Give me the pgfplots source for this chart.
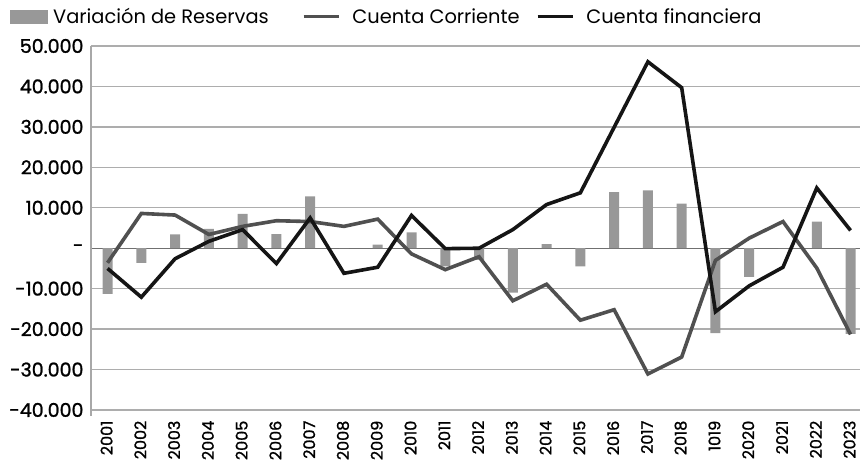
\documentclass[border=0pt]{standalone}
\usepackage{fontspec}
\setmainfont{Poppins}
\newfontfamily\tickfont{Poppins}[FakeBold=1.2]
\usepackage{pgfplots}
\usepackage{pgfplotstable}
\pgfplotsset{compat=1.18}
\definecolor{barg}{HTML}{989898}
\definecolor{ccg}{HTML}{505050}
\definecolor{cfk}{HTML}{151515}
\definecolor{gridg}{HTML}{ADADAD}
\definecolor{zerog}{HTML}{707070}
\definecolor{axisg}{HTML}{A8A8A8}
\pgfplotstableread{
x res cc cf
0 -11300 -3600 -5000
1 -3600 8600 -12100
2 3400 8200 -2600
3 4800 3400 1700
4 8500 5400 4600
5 3500 6800 -3800
6 12800 6600 7500
7 0 5400 -6200
8 900 7200 -4700
9 3900 -1400 8100
10 -4500 -5300 -100
11 -2900 -2100 0
12 -11000 -13000 4600
13 1000 -8900 10800
14 -4500 -17800 13700
15 13900 -15200 29900
16 14300 -31100 46100
17 11000 -26900 39700
18 -21000 -3000 -15700
19 -7100 2500 -9300
20 0 6600 -4700
21 6600 -4900 14900
22 -21200 -21300 4400
}\data
\begin{document}
\begin{tikzpicture}
\begin{axis}[
  scale only axis, width=769pt, height=364pt,
  xmin=-0.49, xmax=22.28,
  ymin=-40000, ymax=50000,
  scaled y ticks=false,
  ytick={-40000,-30000,-20000,-10000,0,10000,20000,30000,40000,50000},
  yticklabels={-40.000,-30.000,-20.000,-10.000,-,10.000,20.000,30.000,40.000,50.000},
  xtick={0,...,22},
  xticklabels={2001,2002,2003,2004,2005,2006,2007,2008,2009,2010,2011,2012,2013,2014,2015,2016,2017,2018,1019,2020,2021,2022,2023},
  xticklabel style={rotate=90, anchor=east, inner sep=0.5pt, font=\tickfont\fontsize{16}{18}\selectfont, xshift=-10pt, yshift=1pt},
  yticklabel style={font=\tickfont\fontsize{19}{22}\selectfont, xshift=-4pt},
  major tick length=0pt,
  axis line style={draw=none},
  ymajorgrids, grid style={gridg, line width=1.3pt},
  clip=false,
  legend style={at={(0,1)}, anchor=north west, xshift=-81pt, yshift=38pt,
    draw=none, fill=none, inner sep=0pt, font=\fontsize{19.4}{23}\selectfont,
    nodes={inner sep=0pt},
    /tikz/every odd column/.append style={column sep=5pt},
    /tikz/every even column/.append style={column sep=16pt}},
  legend columns=3,
]
\draw[zerog, line width=1.3pt] (axis cs:-0.49,0) -- (axis cs:22.28,0);
\draw[axisg, line width=2.6pt] (axis cs:-0.49,-41500) -- (axis cs:-0.49,50000);
\addplot[ybar, bar width=10pt, fill=barg, draw=none,
  legend image code/.code={\fill[barg] (0pt,-7pt) rectangle (38pt,7pt);}]
  table[x=x, y=res] {\data};
\addlegendentry{Variación de Reservas\rule{17pt}{0pt}}
\addplot[ccg, line width=3.6pt, mark=none,
  legend image code/.code={\draw[ccg, line width=3.6pt] (0pt,0pt) -- (35pt,0pt); \path (42pt,0pt);}]
  table[x=x, y=cc] {\data};
\addlegendentry{Cuenta Corriente}
\addplot[cfk, line width=3.6pt, mark=none,
  legend image code/.code={\draw[cfk, line width=3.6pt] (0pt,0pt) -- (35pt,0pt); \path (42pt,0pt);}]
  table[x=x, y=cf] {\data};
\addlegendentry{Cuenta financiera}
\end{axis}
\pgfresetboundingbox
\path (-91pt,-54pt) rectangle (769pt,410pt);
\end{tikzpicture}
\end{document}
